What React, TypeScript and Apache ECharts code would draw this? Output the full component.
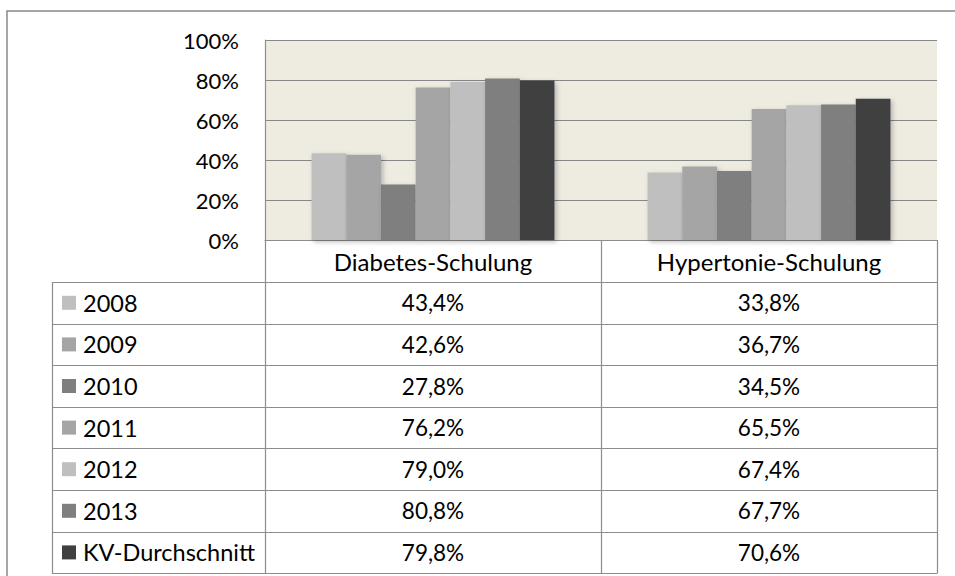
import React, { useEffect, useRef } from "react";
import * as echarts from "echarts";

const categories = ["Diabetes-Schulung", "Hypertonie-Schulung"];
const seriesNames = ["2008", "2009", "2010", "2011", "2012", "2013", "KV-Durchschnitt"];
const diabetesValues = [43.4, 42.6, 27.8, 76.2, 79.0, 80.8, 79.8];
const hypertonieValues = [33.8, 36.7, 34.5, 65.5, 67.4, 67.7, 70.6];
const seriesColors = ["#BFBFBF", "#A5A5A5", "#7F7F7F", "#A5A5A5", "#BFBFBF", "#7F7F7F", "#404040"];
const yMax = 100;
const yInterval = 20;

const W = 955;
const H = 576;
const FONT = "Lato, 'Open Sans', sans-serif";
const LINE = "#8C8C8C";

const plotLeft = 265;
const plotTop = 40;
const plotRight = 937;
const plotBottom = 240;
const tableLeft = 52;
const headerBottom = 282;
const rowH = 41.6;
const colMid = (plotLeft + plotRight) / 2;

const fmt = (v: number) => v.toFixed(1).replace(".", ",") + "%";

export default function App() {
  const ref = useRef<HTMLDivElement>(null);

  useEffect(() => {
    if (!ref.current) return;
    const chart = echarts.init(ref.current, undefined, { renderer: "svg", width: W, height: H });

    const graphic: any[] = [];
    // outer frame
    graphic.push({
      type: "polyline",
      shape: { points: [[7, H], [7, 11], [W, 11]] },
      style: { stroke: "#898989", lineWidth: 1.5, fill: "none" },
      silent: true,
    });
    const tableBottom = headerBottom + rowH * seriesNames.length;
    // horizontal table lines
    for (let i = 0; i <= seriesNames.length; i++) {
      const y = Math.round(headerBottom + i * rowH) + 0.5;
      graphic.push({
        type: "line",
        shape: { x1: tableLeft, y1: y, x2: plotRight, y2: y },
        style: { stroke: LINE, lineWidth: 1.2 },
        silent: true,
      });
    }
    // vertical table lines
    const vlines: [number, number][] = [
      [tableLeft, headerBottom],
      [plotLeft, plotBottom],
      [colMid, plotBottom],
      [plotRight, plotBottom],
    ];
    vlines.forEach(([x, y0]) => {
      graphic.push({
        type: "line",
        shape: { x1: Math.round(x) + 0.5, y1: y0, x2: Math.round(x) + 0.5, y2: Math.round(tableBottom) + 0.5 },
        style: { stroke: LINE, lineWidth: 1.2 },
        silent: true,
      });
    });
    // rows
    const colCenters = [(plotLeft + colMid) / 2, (colMid + plotRight) / 2];
    seriesNames.forEach((name, i) => {
      const cy = headerBottom + i * rowH + rowH / 2;
      graphic.push({
        type: "rect",
        shape: { x: 62, y: cy - 7, width: 14, height: 14 },
        style: { fill: seriesColors[i] },
        silent: true,
      });
      graphic.push({
        type: "text",
        x: 83,
        y: cy,
        style: { text: name, fontFamily: FONT, fontSize: 23.5, fill: "#000", align: "left", verticalAlign: "middle" },
        silent: true,
      });
      [diabetesValues[i], hypertonieValues[i]].forEach((v, c) => {
        graphic.push({
          type: "text",
          x: colCenters[c],
          y: cy,
          style: { text: fmt(v), fontFamily: FONT, fontSize: 22.5, fill: "#000", align: "center", verticalAlign: "middle" },
          silent: true,
        });
      });
    });

    chart.setOption({
      animation: false,
      backgroundColor: "#FFFFFF",
      grid: {
        left: plotLeft,
        top: plotTop,
        right: W - plotRight,
        bottom: H - plotBottom,
        show: true,
        backgroundColor: "#EEECE1",
        borderWidth: 0,
      },
      xAxis: {
        type: "category",
        data: categories,
        axisLine: { show: true, lineStyle: { color: LINE, width: 1.2 } },
        axisTick: { show: false },
        axisLabel: { margin: 9, fontFamily: FONT, fontSize: 24, color: "#000" },
        splitLine: { show: false },
      },
      yAxis: {
        type: "value",
        min: 0,
        max: yMax,
        interval: yInterval,
        axisLine: { show: true, lineStyle: { color: LINE, width: 1.2 } },
        axisTick: { show: false },
        axisLabel: { margin: 26, fontFamily: FONT, fontSize: 22, color: "#000", formatter: (v: number) => `${v}%` },
        splitLine: { show: true, lineStyle: { color: "#878787", width: 1.2 } },
      },
      series: seriesNames.map((name, i) => ({
        name,
        type: "bar",
        data: [diabetesValues[i], hypertonieValues[i]],
        barGap: "0%",
        barCategoryGap: "27.7%",
        itemStyle: {
          color: seriesColors[i],
          shadowBlur: 5,
          shadowOffsetX: 2,
          shadowOffsetY: 2,
          shadowColor: "rgba(0,0,0,0.25)",
        },
      })),
      graphic,
    });

    return () => chart.dispose();
  }, []);

  return <div ref={ref} style={{ position: "fixed", left: 0, top: 0, width: W, height: H }} />;
}
